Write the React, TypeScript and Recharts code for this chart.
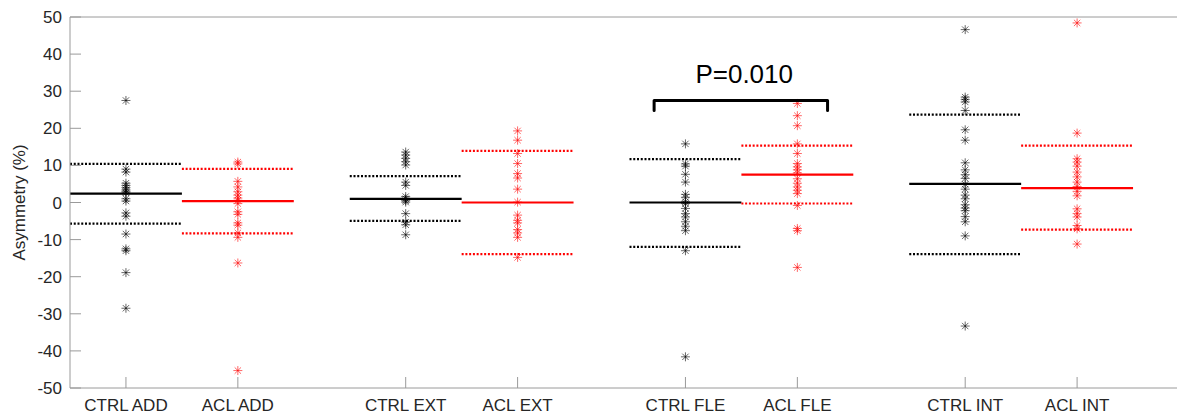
import { ScatterChart, Scatter, XAxis, YAxis, ReferenceLine, ReferenceDot } from 'recharts';

// group names and where they sit on the x axis
const groupNames = ['CTRL ADD', 'ACL ADD', 'CTRL EXT', 'ACL EXT', 'CTRL FLE', 'ACL FLE', 'CTRL INT', 'ACL INT'];
const groupX = [1, 2, 3.5, 4.5, 6, 7, 8.5, 9.5];
const yTicks = [-50, -40, -30, -20, -10, 0, 10, 20, 30, 40, 50];

// individual asymmetry values (%) per group
const ctrlAdd = [27.5, 9.0, 8.2, 5.2, 4.6, 4.0, 3.4, 3.0, 2.6, 1.0, 0.4, -2.8, -3.7, -8.5, -12.5, -13.0, -18.9, -28.5];
const aclAdd = [10.9, 10.4, 5.7, 4.2, 2.9, 2.0, 1.2, 0.6, -0.3, -2.5, -3.2, -5.5, -6.1, -8.2, -9.4, -16.3, -45.3];
const ctrlExt = [13.6, 12.8, 11.9, 11.0, 10.1, 5.5, 4.6, 1.6, 1.0, 0.5, 0.1, -3.0, -5.3, -6.0, -8.7];
const aclExt = [19.3, 16.8, 13.2, 10.5, 7.8, 6.6, 3.6, 0.1, -3.4, -4.8, -5.5, -7.3, -8.2, -9.4, -14.8];
const ctrlFle = [15.8, 10.4, 9.8, 7.6, 5.5, 2.2, 1.4, 0.2, -0.3, -1.6, -3.0, -3.9, -5.2, -6.4, -7.6, -13.0, -41.6];
const aclFle = [26.7, 23.4, 20.7, 15.8, 13.2, 10.5, 9.6, 8.8, 8.0, 6.4, 5.2, 4.2, 3.3, 2.4, -0.8, -7.0, -7.6, -17.5];
const ctrlInt = [46.6, 28.4, 27.8, 27.1, 24.8, 19.6, 16.8, 10.7, 8.8, 7.5, 6.5, 4.9, 3.6, 2.0, 1.0, -0.6, -1.5, -2.2, -3.8, -5.2, -9.0, -33.3];
const aclInt = [48.4, 18.7, 11.8, 10.9, 9.8, 8.2, 6.9, 5.5, 4.3, 3.0, 1.8, -1.7, -3.0, -3.9, -6.2, -7.1, -11.2];

const groupValues = [ctrlAdd, aclAdd, ctrlExt, aclExt, ctrlFle, aclFle, ctrlInt, aclInt];

// centre line and dotted limits per group
const centreLines = [2.4, 0.35, 1.0, 0.0, 0.0, 7.5, 5.0, 3.9];
const upperLimits = [10.4, 9.05, 7.1, 13.9, 11.7, 15.35, 23.7, 15.35];
const lowerLimits = [-5.7, -8.3, -4.95, -13.9, -11.95, -0.27, -13.9, -7.3];

// significance bracket between CTRL FLE and ACL FLE
const bracketX = [5.72, 5.72, 7.27, 7.27];
const bracketY = [24.8, 27.5, 27.5, 24.8];
const pLabel = 'P=0.010';
const pLabelX = 6.525;
const pLabelY = 34.8;

const FONT = '"Liberation Sans", Arial, Helvetica, sans-serif';
const AXIS_COLOR = '#9a9a9a';
const TEXT_COLOR = '#262626';

const colorFor = (i: number) => (i % 2 === 0 ? '#000000' : '#ff0000');

function Asterisk(props: any) {
  const { cx, cy, fill } = props;
  const r = 4.5;
  const d = r * 0.7071;
  return (
    <g stroke={fill} strokeWidth={1} strokeOpacity={0.6}>
      <line x1={cx - r} y1={cy} x2={cx + r} y2={cy} />
      <line x1={cx} y1={cy - r} x2={cx} y2={cy + r} />
      <line x1={cx - d} y1={cy - d} x2={cx + d} y2={cy + d} />
      <line x1={cx - d} y1={cy + d} x2={cx + d} y2={cy - d} />
    </g>
  );
}

export default function App() {
  const bracket = bracketX.map((x, i) => ({ x, y: bracketY[i] }));

  return (
    <div style={{ position: 'absolute', left: 0, top: 0, width: 1177, height: 414, overflow: 'hidden', background: '#fff' }}>
      <ScatterChart
        width={1192}
        height={414}
        margin={{ top: 16, right: 2, bottom: 0, left: 0 }}
        style={{ fontFamily: FONT }}
      >
        <XAxis
          dataKey="x"
          type="number"
          domain={[0.5, 10.5]}
          ticks={groupX}
          allowDataOverflow
          tickFormatter={(v: number) => groupNames[groupX.indexOf(v)] ?? ''}
          height={26}
          stroke={AXIS_COLOR}
          tickSize={-11}
          tickMargin={22}
          tick={{ fill: TEXT_COLOR, fontSize: 17 }}
          interval={0}
        />
        <XAxis
          xAxisId="top"
          orientation="top"
          type="number"
          domain={[0.5, 10.5]}
          ticks={groupX}
          allowDataOverflow
          height={1}
          stroke={AXIS_COLOR}
          tickSize={-11}
          tick={false}
          interval={0}
        />
        <YAxis
          dataKey="y"
          type="number"
          domain={[-50, 50]}
          ticks={yTicks}
          allowDataOverflow
          width={70}
          stroke={AXIS_COLOR}
          tickSize={-11}
          tickMargin={19}
          tick={{ fill: TEXT_COLOR, fontSize: 17 }}
          interval={0}
          label={{ value: 'Asymmetry (%)', angle: -90, position: 'center', dx: -16, fill: TEXT_COLOR, fontSize: 17 }}
        />
        <YAxis
          yAxisId="right"
          orientation="right"
          type="number"
          domain={[-50, 50]}
          ticks={yTicks}
          allowDataOverflow
          width={1}
          stroke={AXIS_COLOR}
          tickSize={-11}
          tick={false}
          interval={0}
        />

        {groupX.map((gx, i) => (
          <ReferenceLine
            key={`c${i}`}
            segment={[{ x: gx - 0.5, y: centreLines[i] }, { x: gx + 0.5, y: centreLines[i] }]}
            stroke={colorFor(i)}
            strokeWidth={2.2}
            ifOverflow="visible"
          />
        ))}
        {groupX.map((gx, i) => (
          <ReferenceLine
            key={`u${i}`}
            segment={[{ x: gx - 0.5, y: upperLimits[i] }, { x: gx + 0.5, y: upperLimits[i] }]}
            stroke={colorFor(i)}
            strokeWidth={2.2}
            strokeDasharray="2 1.75"
            ifOverflow="visible"
          />
        ))}
        {groupX.map((gx, i) => (
          <ReferenceLine
            key={`l${i}`}
            segment={[{ x: gx - 0.5, y: lowerLimits[i] }, { x: gx + 0.5, y: lowerLimits[i] }]}
            stroke={colorFor(i)}
            strokeWidth={2.2}
            strokeDasharray="2 1.75"
            ifOverflow="visible"
          />
        ))}

        {groupValues.map((vals, i) => (
          <Scatter
            key={groupNames[i]}
            name={groupNames[i]}
            data={vals.map((v) => ({ x: groupX[i], y: v }))}
            fill={colorFor(i)}
            shape={Asterisk}
            isAnimationActive={false}
          />
        ))}

        <Scatter
          name="bracket"
          data={bracket}
          line={{ stroke: '#000', strokeWidth: 3, strokeLinejoin: 'round', strokeLinecap: 'round' }}
          shape={() => <g />}
          isAnimationActive={false}
        />
        <ReferenceDot
          x={pLabelX}
          y={pLabelY}
          r={0}
          ifOverflow="visible"
          label={{ value: pLabel, position: 'center', fontSize: 26, fill: '#000' }}
        />
      </ScatterChart>
    </div>
  );
}
